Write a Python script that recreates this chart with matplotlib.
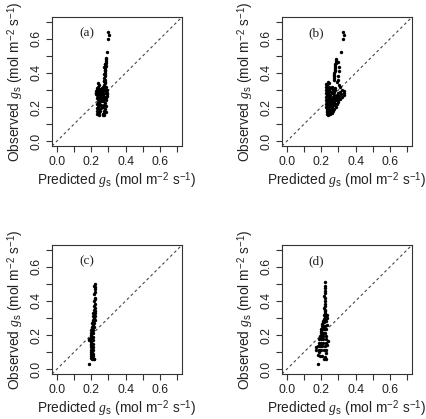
import matplotlib
matplotlib.use("Agg")
import matplotlib.pyplot as plt

plt.rcParams['font.family'] = ['Liberation Sans', 'DejaVu Sans']
plt.rcParams['mathtext.fontset'] = 'custom'
plt.rcParams['mathtext.rm'] = 'Liberation Sans'
plt.rcParams['mathtext.it'] = 'Liberation Serif:italic'
plt.rcParams['mathtext.bf'] = 'Liberation Sans:bold'

# ---------------- data (predicted, observed) ----------------
pred_a = [0.235, 0.240, 0.236, 0.243, 0.238, 0.245, 0.236, 0.242, 0.247, 0.237, 0.243, 0.233, 0.240, 0.246,
          0.235, 0.241, 0.237, 0.244, 0.239, 0.246, 0.232, 0.248, 0.231, 0.248, 0.230, 0.248, 0.226, 0.228,
          0.225, 0.254, 0.258, 0.253, 0.259, 0.255, 0.260, 0.254, 0.257, 0.255, 0.256, 0.254, 0.270, 0.277,
          0.284, 0.272, 0.280, 0.268, 0.285, 0.274, 0.281, 0.269, 0.287, 0.276, 0.283, 0.270, 0.289, 0.278,
          0.285, 0.272, 0.280, 0.287, 0.274, 0.282, 0.269, 0.291, 0.292, 0.267, 0.277, 0.267, 0.245, 0.276,
          0.280, 0.277, 0.281, 0.278, 0.282, 0.280, 0.283, 0.281, 0.284, 0.282, 0.285, 0.284, 0.286, 0.274,
          0.279, 0.288, 0.292, 0.298, 0.301, 0.299, 0.250, 0.262, 0.264, 0.251, 0.263, 0.250, 0.264, 0.233,
          0.290, 0.286, 0.275, 0.278, 0.276, 0.279]
obs_a = [0.160, 0.170, 0.180, 0.190, 0.200, 0.210, 0.220, 0.230, 0.240, 0.250, 0.260, 0.270, 0.280, 0.290,
         0.300, 0.310, 0.320, 0.330, 0.340, 0.165, 0.195, 0.225, 0.255, 0.275, 0.285, 0.305, 0.275, 0.295,
         0.285, 0.245, 0.255, 0.265, 0.275, 0.285, 0.295, 0.305, 0.235, 0.215, 0.195, 0.175, 0.160, 0.165,
         0.170, 0.180, 0.190, 0.200, 0.205, 0.215, 0.225, 0.235, 0.240, 0.250, 0.260, 0.270, 0.275, 0.285,
         0.295, 0.300, 0.310, 0.320, 0.330, 0.340, 0.315, 0.285, 0.300, 0.255, 0.155, 0.155, 0.155, 0.350,
         0.360, 0.370, 0.380, 0.390, 0.400, 0.410, 0.420, 0.430, 0.440, 0.450, 0.460, 0.470, 0.480, 0.355,
         0.345, 0.485, 0.523, 0.600, 0.620, 0.640, 0.270, 0.280, 0.260, 0.300, 0.290, 0.250, 0.310, 0.310,
         0.265, 0.255, 0.395, 0.415, 0.435, 0.455]

pred_b = [0.225, 0.228, 0.226, 0.229, 0.225, 0.227, 0.230, 0.226, 0.236, 0.233, 0.238, 0.235, 0.237, 0.234,
          0.239, 0.236, 0.233, 0.238, 0.235, 0.245, 0.243, 0.247, 0.244, 0.246, 0.242, 0.248, 0.245, 0.243,
          0.247, 0.255, 0.252, 0.257, 0.254, 0.256, 0.253, 0.258, 0.255, 0.265, 0.262, 0.267, 0.264, 0.266,
          0.263, 0.268, 0.265, 0.275, 0.272, 0.277, 0.274, 0.276, 0.273, 0.285, 0.282, 0.287, 0.284, 0.283,
          0.290, 0.300, 0.310, 0.320, 0.330, 0.335, 0.330, 0.320, 0.310, 0.300, 0.295, 0.290, 0.310, 0.305,
          0.272, 0.275, 0.277, 0.279, 0.282, 0.284, 0.287, 0.273, 0.276, 0.278, 0.281, 0.283, 0.285, 0.295,
          0.298, 0.301, 0.304, 0.300, 0.290, 0.318, 0.326, 0.330, 0.328, 0.240, 0.250, 0.260, 0.270, 0.231,
          0.241, 0.251, 0.261, 0.232, 0.242, 0.252, 0.262, 0.271, 0.280, 0.288, 0.295, 0.305, 0.315]
obs_b = [0.200, 0.220, 0.240, 0.260, 0.280, 0.300, 0.320, 0.335, 0.170, 0.190, 0.210, 0.230, 0.250, 0.270,
         0.290, 0.310, 0.330, 0.345, 0.160, 0.180, 0.200, 0.220, 0.240, 0.260, 0.280, 0.300, 0.320, 0.340,
         0.165, 0.170, 0.190, 0.210, 0.230, 0.250, 0.270, 0.290, 0.310, 0.180, 0.200, 0.220, 0.240, 0.260,
         0.280, 0.300, 0.320, 0.190, 0.210, 0.230, 0.250, 0.270, 0.290, 0.200, 0.220, 0.240, 0.260, 0.300,
         0.270, 0.280, 0.290, 0.300, 0.295, 0.285, 0.270, 0.260, 0.250, 0.240, 0.230, 0.220, 0.315, 0.330,
         0.360, 0.380, 0.400, 0.420, 0.440, 0.460, 0.480, 0.370, 0.390, 0.410, 0.430, 0.450, 0.470, 0.360,
         0.385, 0.410, 0.435, 0.465, 0.345, 0.520, 0.597, 0.620, 0.640, 0.155, 0.160, 0.165, 0.175, 0.180,
         0.180, 0.180, 0.190, 0.270, 0.275, 0.265, 0.230, 0.310, 0.310, 0.245, 0.255, 0.265, 0.275]

pred_c = [0.221, 0.219, 0.222, 0.220, 0.221, 0.218, 0.222, 0.220, 0.219, 0.221, 0.218, 0.222, 0.219, 0.221,
          0.212, 0.218, 0.224, 0.210, 0.216, 0.222, 0.208, 0.214, 0.220, 0.206, 0.212, 0.218, 0.204, 0.210,
          0.216, 0.200, 0.207, 0.213, 0.198, 0.205, 0.212, 0.197, 0.204, 0.211, 0.196, 0.203, 0.210, 0.196,
          0.202, 0.209, 0.197, 0.203, 0.209, 0.196, 0.202, 0.208, 0.196, 0.204, 0.212, 0.198, 0.206, 0.215,
          0.190, 0.186, 0.190, 0.200, 0.208, 0.214, 0.215, 0.213, 0.208, 0.206, 0.203, 0.201, 0.200, 0.199,
          0.199, 0.206]
obs_c = [0.500, 0.490, 0.480, 0.470, 0.450, 0.440, 0.420, 0.410, 0.400, 0.385, 0.370, 0.360, 0.350, 0.340,
         0.330, 0.330, 0.330, 0.310, 0.310, 0.310, 0.290, 0.290, 0.290, 0.270, 0.270, 0.270, 0.250, 0.250,
         0.250, 0.230, 0.230, 0.230, 0.210, 0.210, 0.210, 0.190, 0.190, 0.190, 0.170, 0.170, 0.170, 0.150,
         0.150, 0.150, 0.130, 0.130, 0.130, 0.110, 0.110, 0.110, 0.090, 0.090, 0.090, 0.065, 0.060, 0.062,
         0.033, 0.180, 0.170, 0.075, 0.075, 0.058, 0.300, 0.280, 0.260, 0.240, 0.220, 0.200, 0.160, 0.140,
         0.100, 0.100]

pred_d = [0.222, 0.220, 0.223, 0.221, 0.222, 0.219, 0.223, 0.221, 0.220, 0.222, 0.219, 0.223, 0.220, 0.222,
          0.216, 0.225, 0.234, 0.214, 0.222, 0.231, 0.210, 0.218, 0.227, 0.206, 0.214, 0.223, 0.231, 0.200,
          0.208, 0.217, 0.226, 0.196, 0.205, 0.214, 0.224, 0.193, 0.202, 0.212, 0.225, 0.190, 0.200, 0.212,
          0.228, 0.186, 0.196, 0.210, 0.225, 0.180, 0.192, 0.207, 0.222, 0.172, 0.185, 0.200, 0.215, 0.182,
          0.192, 0.205, 0.217, 0.228, 0.183, 0.237, 0.232, 0.169, 0.225, 0.220, 0.228, 0.211, 0.219, 0.204,
          0.210, 0.199, 0.206, 0.196, 0.188, 0.230, 0.221]
obs_d = [0.510, 0.490, 0.475, 0.460, 0.445, 0.430, 0.415, 0.400, 0.385, 0.370, 0.360, 0.350, 0.340, 0.330,
         0.315, 0.315, 0.320, 0.295, 0.295, 0.300, 0.275, 0.275, 0.280, 0.255, 0.255, 0.255, 0.260, 0.235,
         0.235, 0.235, 0.235, 0.215, 0.215, 0.215, 0.215, 0.195, 0.195, 0.195, 0.195, 0.175, 0.175, 0.175,
         0.175, 0.155, 0.155, 0.155, 0.155, 0.135, 0.135, 0.135, 0.135, 0.115, 0.115, 0.115, 0.115, 0.085,
         0.080, 0.075, 0.062, 0.060, 0.033, 0.165, 0.140, 0.130, 0.095, 0.305, 0.305, 0.285, 0.285, 0.265,
         0.245, 0.225, 0.205, 0.185, 0.100, 0.110, 0.070]

panel_labels = ['(a)', '(b)', '(c)', '(d)']
ticks_major = [0.0, 0.2, 0.4, 0.6]
ticks_minor = [0.1, 0.3, 0.5, 0.7]
tick_labels = ['0.0', '0.2', '0.4', '0.6']
lim = (-0.028, 0.728)

xlabel = r'Predicted $g_{\mathrm{s}}$ (mol m$^{-2}$ s$^{-1}$)'
ylabel = r'Observed $g_{\mathrm{s}}$ (mol m$^{-2}$ s$^{-1}$)'

W, H = 427, 419
fig = plt.figure(figsize=(W / 100, H / 100), dpi=100)

boxes = [(52, 17), (282, 17), (52, 245), (282, 245)]
bw, bh = 130, 129
data = [(pred_a, obs_a), (pred_b, obs_b), (pred_c, obs_c), (pred_d, obs_d)]

for (left, top), (px, oy), lab in zip(boxes, data, panel_labels):
    ax = fig.add_axes([left / W, 1 - (top + bh) / H, bw / W, bh / H])
    ax.set_xlim(lim)
    ax.set_ylim(lim)
    ax.plot([lim[0], lim[1]], [lim[0], lim[1]], color='#444444', lw=0.8,
            linestyle=(0, (2.5, 2.5)), zorder=1)
    ax.scatter(px, oy, s=6, c='black', linewidths=0, zorder=2)
    ax.set_xticks(ticks_major)
    ax.set_yticks(ticks_major)
    ax.set_xticks(ticks_minor, minor=True)
    ax.set_yticks(ticks_minor, minor=True)
    ax.set_xticklabels(tick_labels)
    ax.set_yticklabels(tick_labels, rotation=90, va='center')
    ax.tick_params(which='both', direction='out', length=4, width=0.8, labelsize=8.8,
                   colors='#333333', labelcolor='#222222')
    ax.tick_params(axis='x', pad=3)
    ax.tick_params(axis='y', pad=3)
    for sp in ax.spines.values():
        sp.set_linewidth(0.8)
        sp.set_color('#333333')
    ax.set_xlabel(xlabel, fontsize=9.9, labelpad=2, color='#222222')
    ax.set_ylabel(ylabel, fontsize=9.9, labelpad=3, color='#222222')
    ax.text(0.172, 0.63, lab, fontsize=9.5, family='Liberation Serif',
            ha='center', va='center', color='#222222')

fig.savefig('out.png', dpi=100)
